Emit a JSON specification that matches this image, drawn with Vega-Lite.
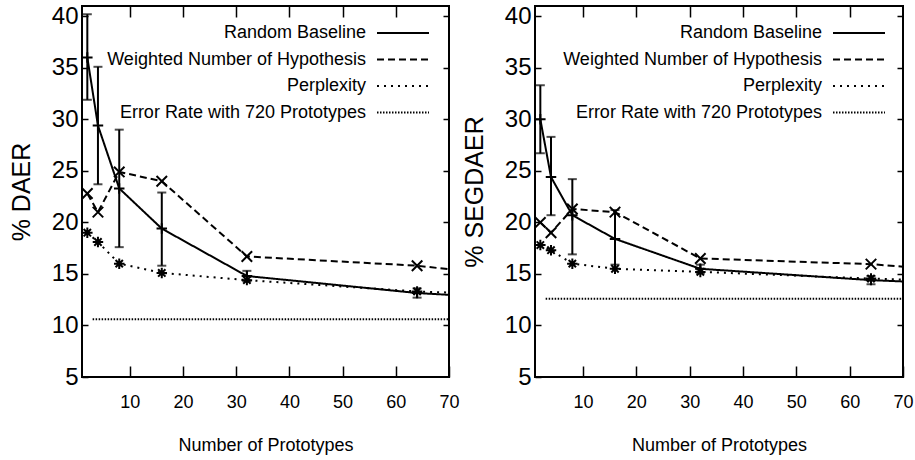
{
  "$schema": "https://vega.github.io/schema/vega-lite/v6.json",
  "padding": {"left": 8, "top": 3, "right": 2, "bottom": 5},
  "spacing": 0,
  "resolve": {"scale": {"strokeDash": "independent", "shape": "independent"}, "legend": {"strokeDash": "independent", "shape": "independent"}},
  "datasets": {
    "pts": [
      {"panel": "DAER", "series": "Random Baseline", "x": 2, "y": 36.0, "lo": 31.9, "hi": 40.2},
      {"panel": "DAER", "series": "Random Baseline", "x": 4, "y": 29.4, "lo": 23.7, "hi": 35.1},
      {"panel": "DAER", "series": "Random Baseline", "x": 8, "y": 23.3, "lo": 17.6, "hi": 29.0},
      {"panel": "DAER", "series": "Random Baseline", "x": 16, "y": 19.4, "lo": 15.8, "hi": 22.9},
      {"panel": "DAER", "series": "Random Baseline", "x": 32, "y": 14.8, "lo": 14.3, "hi": 15.3},
      {"panel": "DAER", "series": "Random Baseline", "x": 64, "y": 13.15, "lo": 12.7, "hi": 13.6},
      {"panel": "DAER", "series": "Random Baseline", "x": 128, "y": 11.25},
      {"panel": "DAER", "series": "Weighted Number of Hypothesis", "x": 2, "y": 22.8},
      {"panel": "DAER", "series": "Weighted Number of Hypothesis", "x": 4, "y": 21.0},
      {"panel": "DAER", "series": "Weighted Number of Hypothesis", "x": 8, "y": 24.9},
      {"panel": "DAER", "series": "Weighted Number of Hypothesis", "x": 16, "y": 24.0},
      {"panel": "DAER", "series": "Weighted Number of Hypothesis", "x": 32, "y": 16.7},
      {"panel": "DAER", "series": "Weighted Number of Hypothesis", "x": 64, "y": 15.8},
      {"panel": "DAER", "series": "Weighted Number of Hypothesis", "x": 128, "y": 12.1},
      {"panel": "DAER", "series": "Perplexity", "x": 2, "y": 19.0},
      {"panel": "DAER", "series": "Perplexity", "x": 4, "y": 18.1},
      {"panel": "DAER", "series": "Perplexity", "x": 8, "y": 16.0},
      {"panel": "DAER", "series": "Perplexity", "x": 16, "y": 15.1},
      {"panel": "DAER", "series": "Perplexity", "x": 32, "y": 14.4},
      {"panel": "DAER", "series": "Perplexity", "x": 64, "y": 13.3},
      {"panel": "DAER", "series": "Perplexity", "x": 128, "y": 12.2},
      {"panel": "DAER", "series": "Error Rate with 720 Prototypes", "x": 3, "y": 10.6},
      {"panel": "DAER", "series": "Error Rate with 720 Prototypes", "x": 70, "y": 10.6},
      {"panel": "SEGDAER", "series": "Random Baseline", "x": 2, "y": 30.0, "lo": 26.7, "hi": 33.3},
      {"panel": "SEGDAER", "series": "Random Baseline", "x": 4, "y": 24.4, "lo": 20.7, "hi": 28.3},
      {"panel": "SEGDAER", "series": "Random Baseline", "x": 8, "y": 20.7, "lo": 16.9, "hi": 24.2},
      {"panel": "SEGDAER", "series": "Random Baseline", "x": 16, "y": 18.4, "lo": 15.9, "hi": 21.2},
      {"panel": "SEGDAER", "series": "Random Baseline", "x": 32, "y": 15.5, "lo": 15.1, "hi": 15.9},
      {"panel": "SEGDAER", "series": "Random Baseline", "x": 64, "y": 14.4, "lo": 14.0, "hi": 14.8},
      {"panel": "SEGDAER", "series": "Random Baseline", "x": 128, "y": 13.0},
      {"panel": "SEGDAER", "series": "Weighted Number of Hypothesis", "x": 2, "y": 20.0},
      {"panel": "SEGDAER", "series": "Weighted Number of Hypothesis", "x": 4, "y": 19.0},
      {"panel": "SEGDAER", "series": "Weighted Number of Hypothesis", "x": 8, "y": 21.3},
      {"panel": "SEGDAER", "series": "Weighted Number of Hypothesis", "x": 16, "y": 21.0},
      {"panel": "SEGDAER", "series": "Weighted Number of Hypothesis", "x": 32, "y": 16.5},
      {"panel": "SEGDAER", "series": "Weighted Number of Hypothesis", "x": 64, "y": 15.95},
      {"panel": "SEGDAER", "series": "Weighted Number of Hypothesis", "x": 128, "y": 13.3},
      {"panel": "SEGDAER", "series": "Perplexity", "x": 2, "y": 17.8},
      {"panel": "SEGDAER", "series": "Perplexity", "x": 4, "y": 17.3},
      {"panel": "SEGDAER", "series": "Perplexity", "x": 8, "y": 16.0},
      {"panel": "SEGDAER", "series": "Perplexity", "x": 16, "y": 15.5},
      {"panel": "SEGDAER", "series": "Perplexity", "x": 32, "y": 15.2},
      {"panel": "SEGDAER", "series": "Perplexity", "x": 64, "y": 14.55},
      {"panel": "SEGDAER", "series": "Perplexity", "x": 128, "y": 13.5},
      {"panel": "SEGDAER", "series": "Error Rate with 720 Prototypes", "x": 3, "y": 12.6},
      {"panel": "SEGDAER", "series": "Error Rate with 720 Prototypes", "x": 70, "y": 12.6}
    ]
  },
  "hconcat": [
    {
      "width": 367,
      "height": 371,
      "data": {"name": "pts"},
      "transform": [{"filter": "datum.panel == 'DAER'"}],
      "layer": [
        {
          "mark": {"type": "line", "clip": true, "strokeWidth": 2, "color": "black"},
          "encoding": {
            "x": {"field": "x", "type": "quantitative", "scale": {"domain": [1, 70], "nice": false, "zero": false},
                  "axis": {"orient": "bottom", "values": [10, 20, 30, 40, 50, 60, 70], "ticks": false, "title": "Number of Prototypes"}},
            "y": {"field": "y", "type": "quantitative", "scale": {"domain": [5, 41], "nice": false, "zero": false},
                  "axis": {"orient": "left", "values": [5, 10, 15, 20, 25, 30, 35, 40], "ticks": false, "title": "% DAER"}},
            "strokeDash": {"field": "series", "type": "nominal",
              "legend": {"orient": "none", "legendX": 307, "legendY": 13},
              "scale": {"domain": ["Random Baseline", "Weighted Number of Hypothesis", "Perplexity", "Error Rate with 720 Prototypes"],
                        "range": [[1, 0], [7, 4], [2, 5], [1.5, 1.5]]}}
          }
        },
        {
          "transform": [{"filter": "isValid(datum.lo)"}],
          "mark": {"type": "rule", "clip": true, "strokeWidth": 2, "color": "black"},
          "encoding": {
            "x": {"field": "x", "type": "quantitative",
                  "axis": {"orient": "bottom", "values": [10, 20, 30, 40, 50, 60, 70], "labels": false, "title": null, "offset": -11, "tickSize": 11}},
            "y": {"field": "lo", "type": "quantitative",
                  "axis": {"orient": "left", "values": [5, 10, 15, 20, 25, 30, 35, 40], "labels": false, "title": null, "offset": -6, "tickSize": 6}},
            "y2": {"field": "hi"}
          }
        },
        {
          "transform": [{"filter": "isValid(datum.lo)"}],
          "mark": {"type": "tick", "orient": "horizontal", "size": 9, "thickness": 2, "color": "black", "clip": true},
          "encoding": {
            "x": {"field": "x", "type": "quantitative", "axis": null},
            "y": {"field": "lo", "type": "quantitative", "axis": null}
          }
        },
        {
          "transform": [{"filter": "isValid(datum.hi)"}],
          "mark": {"type": "tick", "orient": "horizontal", "size": 9, "thickness": 2, "color": "black", "clip": true},
          "encoding": {
            "x": {"field": "x", "type": "quantitative", "axis": null},
            "y": {"field": "hi", "type": "quantitative", "axis": null}
          }
        },
        {
          "transform": [{"filter": "datum.x <= 70 && datum.series != 'Error Rate with 720 Prototypes'"}],
          "mark": {"type": "point", "filled": false, "strokeWidth": 2, "color": "black", "size": 110, "opacity": 1},
          "encoding": {
            "x": {"field": "x", "type": "quantitative",
                  "axis": {"orient": "top", "values": [10, 20, 30, 40, 50, 60], "labels": false, "title": null, "offset": -11, "tickSize": 11}},
            "y": {"field": "y", "type": "quantitative",
                  "axis": {"orient": "right", "values": [10, 15, 20, 25, 30, 35, 40], "labels": false, "title": null, "offset": -6, "tickSize": 6}},
            "shape": {"field": "series", "type": "nominal", "legend": null,
              "scale": {"domain": ["Random Baseline", "Weighted Number of Hypothesis", "Perplexity"],
                        "range": ["M-1,0L1,0M0,-1L0,1", "M-1,-1L1,1M-1,1L1,-1", "M-1,0L1,0M0,-1L0,1M-0.7,-0.7L0.7,0.7M-0.7,0.7L0.7,-0.7"]}}
          }
        }
      ],
      "resolve": {"axis": {"x": "independent", "y": "independent"}}
    },
    {
      "width": 368,
      "height": 371,
      "data": {"name": "pts"},
      "transform": [{"filter": "datum.panel == 'SEGDAER'"}],
      "layer": [
        {
          "mark": {"type": "line", "clip": true, "strokeWidth": 2, "color": "black"},
          "encoding": {
            "x": {"field": "x", "type": "quantitative", "scale": {"domain": [1, 70], "nice": false, "zero": false},
                  "axis": {"orient": "bottom", "values": [10, 20, 30, 40, 50, 60, 70], "ticks": false, "title": "Number of Prototypes"}},
            "y": {"field": "y", "type": "quantitative", "scale": {"domain": [5, 41], "nice": false, "zero": false},
                  "axis": {"orient": "left", "values": [5, 10, 15, 20, 25, 30, 35, 40], "ticks": false, "title": "% SEGDAER", "titlePadding": 17}},
            "strokeDash": {"field": "series", "type": "nominal",
              "legend": {"orient": "none", "legendX": 310, "legendY": 13},
              "scale": {"domain": ["Random Baseline", "Weighted Number of Hypothesis", "Perplexity", "Error Rate with 720 Prototypes"],
                        "range": [[1, 0], [7, 4], [2, 5], [1.5, 1.5]]}}
          }
        },
        {
          "transform": [{"filter": "isValid(datum.lo)"}],
          "mark": {"type": "rule", "clip": true, "strokeWidth": 2, "color": "black"},
          "encoding": {
            "x": {"field": "x", "type": "quantitative",
                  "axis": {"orient": "bottom", "values": [10, 20, 30, 40, 50, 60, 70], "labels": false, "title": null, "offset": -11, "tickSize": 11}},
            "y": {"field": "lo", "type": "quantitative",
                  "axis": {"orient": "left", "values": [5, 10, 15, 20, 25, 30, 35, 40], "labels": false, "title": null, "offset": -6, "tickSize": 6}},
            "y2": {"field": "hi"}
          }
        },
        {
          "transform": [{"filter": "isValid(datum.lo)"}],
          "mark": {"type": "tick", "orient": "horizontal", "size": 9, "thickness": 2, "color": "black", "clip": true},
          "encoding": {
            "x": {"field": "x", "type": "quantitative", "axis": null},
            "y": {"field": "lo", "type": "quantitative", "axis": null}
          }
        },
        {
          "transform": [{"filter": "isValid(datum.hi)"}],
          "mark": {"type": "tick", "orient": "horizontal", "size": 9, "thickness": 2, "color": "black", "clip": true},
          "encoding": {
            "x": {"field": "x", "type": "quantitative", "axis": null},
            "y": {"field": "hi", "type": "quantitative", "axis": null}
          }
        },
        {
          "transform": [{"filter": "datum.x <= 70 && datum.series != 'Error Rate with 720 Prototypes'"}],
          "mark": {"type": "point", "filled": false, "strokeWidth": 2, "color": "black", "size": 110, "opacity": 1},
          "encoding": {
            "x": {"field": "x", "type": "quantitative",
                  "axis": {"orient": "top", "values": [10, 20, 30, 40, 50, 60], "labels": false, "title": null, "offset": -11, "tickSize": 11}},
            "y": {"field": "y", "type": "quantitative",
                  "axis": {"orient": "right", "values": [10, 15, 20, 25, 30, 35, 40], "labels": false, "title": null, "offset": -6, "tickSize": 6}},
            "shape": {"field": "series", "type": "nominal", "legend": null,
              "scale": {"domain": ["Random Baseline", "Weighted Number of Hypothesis", "Perplexity"],
                        "range": ["M-1,0L1,0M0,-1L0,1", "M-1,-1L1,1M-1,1L1,-1", "M-1,0L1,0M0,-1L0,1M-0.7,-0.7L0.7,0.7M-0.7,0.7L0.7,-0.7"]}}
          }
        }
      ],
      "resolve": {"axis": {"x": "independent", "y": "independent"}}
    }
  ],
  "config": {
    "view": {"stroke": "black", "strokeWidth": 2},
    "axis": {"domain": false, "grid": false, "tickColor": "black", "tickWidth": 1.5,
             "labelColor": "black", "titleColor": "black", "titleFontWeight": "normal"},
    "axisX": {"labelFont": "Liberation Sans", "labelFontSize": 18, "labelPadding": 16, "labelFlush": false,
              "titleFont": "Liberation Sans", "titleFontSize": 18, "titlePadding": 25},
    "axisY": {"labelFont": "Liberation Sans", "labelFontSize": 24, "labelPadding": 4,
              "titleFont": "Liberation Sans", "titleFontSize": 25, "titlePadding": 17},
    "legend": {"title": null, "symbolType": "M-2,0L2,0", "symbolSize": 676,
               "symbolStrokeWidth": 2, "symbolStrokeColor": "black", "labelFont": "Liberation Sans",
               "labelFontSize": 18, "labelColor": "black", "labelAlign": "right", "labelOffset": -51, "rowPadding": 3.5,
               "padding": 0, "labelLimit": 400}
  }
}
